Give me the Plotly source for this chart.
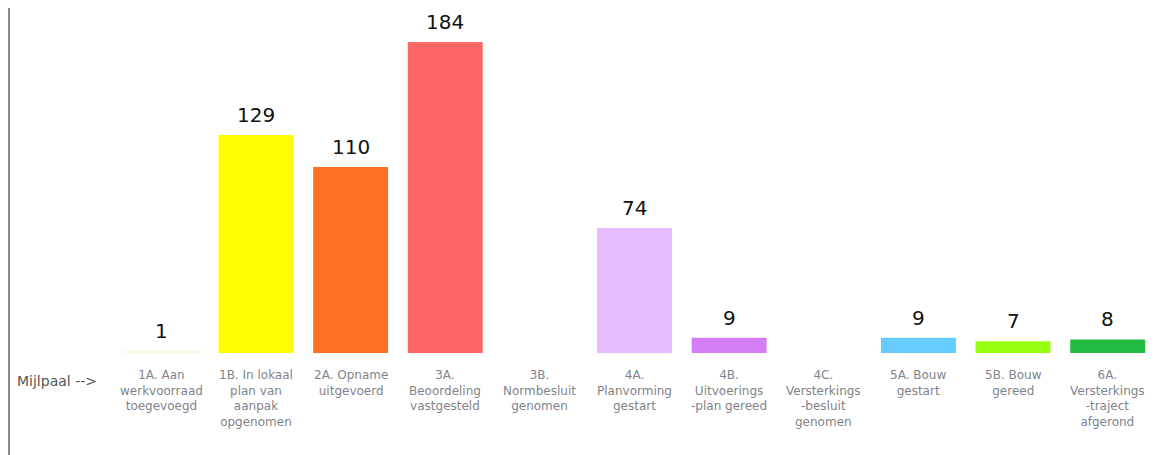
import plotly.graph_objects as go

categories = ["1A", "1B", "2A", "3A", "3B", "4A", "4B", "4C", "5A", "5B", "6A"]
values = [1, 129, 110, 184, 0, 74, 9, 0, 9, 7, 8]
value_labels = ["1", "129", "110", "184", "", "74", "9", "", "9", "7", "8"]
tick_labels = [
    "1A. Aan<br>werkvoorraad<br>toegevoegd",
    "1B. In lokaal<br>plan van<br>aanpak<br>opgenomen",
    "2A. Opname<br>uitgevoerd",
    "3A.<br>Beoordeling<br>vastgesteld",
    "3B.<br>Normbesluit<br>genomen",
    "4A.<br>Planvorming<br>gestart",
    "4B.<br>Uitvoerings<br>-plan gereed",
    "4C.<br>Versterkings<br>-besluit<br>genomen",
    "5A. Bouw<br>gestart",
    "5B. Bouw<br>gereed",
    "6A.<br>Versterkings<br>-traject<br>afgerond",
]
colors = ["#FAF8D8", "#FFFF00", "#FF7226", "#FF6666", "#FFFFFF", "#E6BBFF",
          "#D47EF6", "#FFFFFF", "#66CCFF", "#99FF11", "#22BB44"]

# page body has an 8px margin; figure sized to fit the window exactly
OFF = 8
W, H = 1155 - OFF, 455 - OFF
ML, MR, MT, MB = 114 - OFF, 0, 15 - OFF, 102
plot_w = W - ML - MR
plot_h = H - MT - MB
base_y = OFF + MT + plot_h  # page y of baseline

fig = go.Figure()
fig.add_trace(go.Bar(x=categories, y=values, marker=dict(color=colors, line=dict(width=0)),
                     hoverinfo="skip"))

for c, v, t in zip(categories, values, value_labels):
    if t:
        fig.add_annotation(x=c, y=v, text=t, showarrow=False, yanchor="bottom",
                           yshift=6, font=dict(family="DejaVu Sans", size=20, color="#111111"))
for c, t in zip(categories, tick_labels):
    fig.add_annotation(x=c, y=0, yref="paper", text=t, showarrow=False, yanchor="top",
                       yshift=-13, align="center",
                       font=dict(family="DejaVu Sans", size=12, color="#80838a"))

fig.add_annotation(x=(57 - OFF - ML) / plot_w, xref="paper", y=-(381 - base_y) / plot_h, yref="paper",
                   text="Mijlpaal -->", showarrow=False, xanchor="center", yanchor="middle",
                   font=dict(family="DejaVu Sans", size=14, color="#555555"))

fig.add_shape(type="line", xref="paper", yref="paper",
              x0=-(ML - 1) / plot_w, x1=-(ML - 1) / plot_w,
              y0=-MB / plot_h, y1=1 + MT / plot_h,
              line=dict(color="#8a8a8a", width=2))

fig.update_layout(
    width=W, height=H,
    margin=dict(l=ML, r=MR, t=MT, b=MB),
    plot_bgcolor="white", paper_bgcolor="white",
    bargap=0.208, showlegend=False,
    xaxis=dict(showticklabels=False, showgrid=False, zeroline=False, showline=False, ticks=""),
    yaxis=dict(range=[0, 200], visible=False, showgrid=False, zeroline=False),
)
fig.write_html("out.html")
